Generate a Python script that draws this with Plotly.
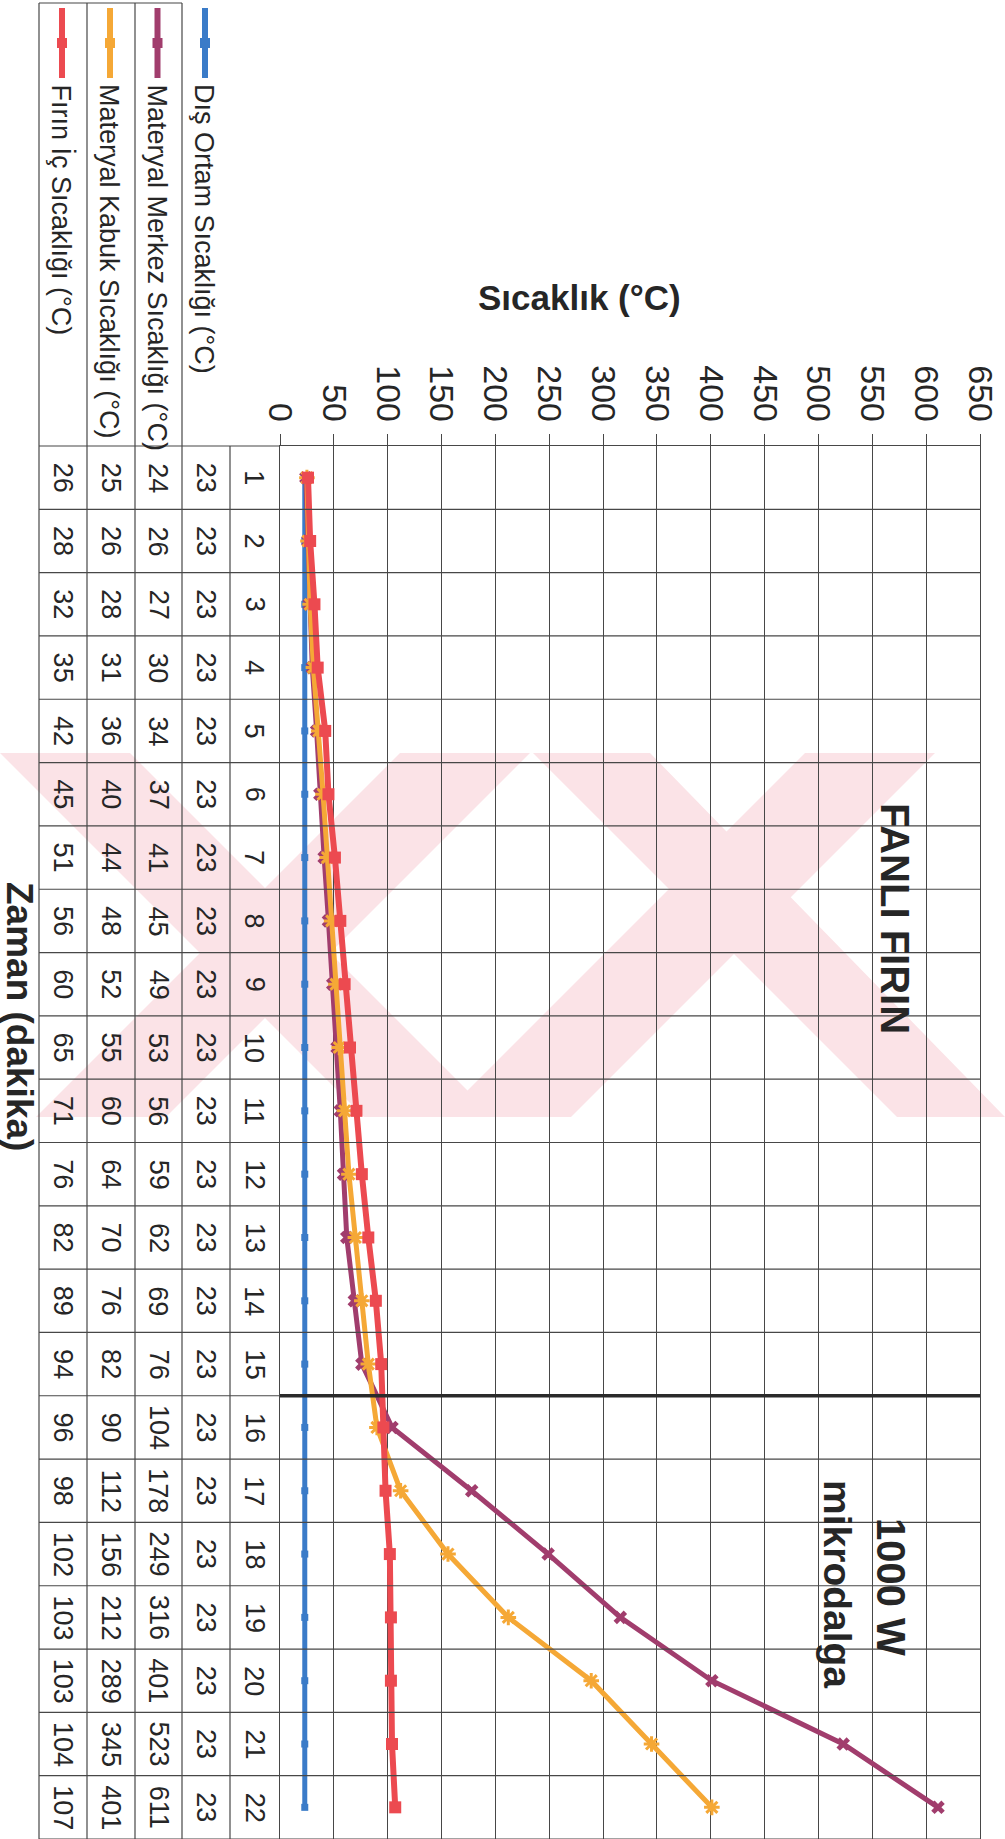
import plotly.graph_objects as go

# ---------------- data ----------------
minutes = [1, 2, 3, 4, 5, 6, 7, 8, 9, 10, 11, 12, 13, 14, 15, 16, 17, 18, 19, 20, 21, 22]
dis_ortam = [23, 23, 23, 23, 23, 23, 23, 23, 23, 23, 23, 23, 23, 23, 23, 23, 23, 23, 23, 23, 23, 23]
merkez = [24, 26, 27, 30, 34, 37, 41, 45, 49, 53, 56, 59, 62, 69, 76, 104, 178, 249, 316, 401, 523, 611]
kabuk = [25, 26, 28, 31, 36, 40, 44, 48, 52, 55, 60, 64, 70, 76, 82, 90, 112, 156, 212, 289, 345, 401]
firin = [26, 28, 32, 35, 42, 45, 51, 56, 60, 65, 71, 76, 82, 89, 94, 96, 98, 102, 103, 103, 104, 107]

series_names = ["Dış Ortam Sıcaklığı (°C)", "Materyal Merkez Sıcaklığı (°C)",
                "Materyal Kabuk Sıcaklığı (°C)", "Fırın İç Sıcaklığı (°C)"]
temp_ticks = [0, 50, 100, 150, 200, 250, 300, 350, 400, 450, 500, 550, 600, 650]

# ---------------- geometry helpers ----------------
W, H = 1005, 1839
PX0, PX1 = 280, 980
PY0, PY1 = 446, 1839


def px(x):
    return (x - PX0) / (PX1 - PX0)


def py(y):
    return (PY1 - y) / (PY1 - PY0)


FONT = "Liberation Sans, Arial, Helvetica, sans-serif"
GRID = "#474747"
TXT = "#262626"

colors = ["#3a7bc8", "#a13d6d", "#f5a836", "#ec4a50"]
symbols = ["square", "x", "asterisk-open", "square"]
msizes = [7, 12, 13, 12]
lwidths = [5, 5, 5, 6]
values = [dis_ortam, merkez, kabuk, firin]

fig = go.Figure()
for name, vals, c, s, ms, lw in zip(series_names, values, colors, symbols, msizes, lwidths):
    mk = dict(symbol=s, size=ms, color=c)
    if s == "asterisk-open":
        mk["line"] = dict(color=c, width=3)
    fig.add_trace(go.Scatter(x=vals, y=minutes, mode="lines+markers", name=name,
                             line=dict(color=c, width=lw), marker=mk, showlegend=False))

shapes = []
# ---------- watermark of the scanned page (approximate diagonal bands) ----------
WM = "#fbe3e7"
wy0, wy1 = 753, 1117
h = wy1 - wy0
bands = [(0, 130, 1), (400, 530, -1), (533, 650, 1), (805, 935, -1)]
for a, b, d in bands:
    pts = [(a, wy0), (b, wy0), (b + d * h, wy1), (a + d * h, wy1)]
    pts = [(max(0, min(W, x)), y) for x, y in pts]
    path = "M " + " L ".join(f"{px(x):.4f},{py(y):.4f}" for x, y in pts) + " Z"
    shapes.append(dict(type="path", xref="paper", yref="paper", path=path,
                       fillcolor=WM, line=dict(width=0), layer="below"))

# ---------- data table lines ----------
col_edges = [39, 87, 135, 182, 230]
for xe in col_edges:
    top = 3 if xe <= 182 else PY0
    shapes.append(dict(type="line", xref="paper", yref="paper", x0=px(xe), x1=px(xe),
                       y0=py(top), y1=py(H), line=dict(color=GRID, width=1.2)))
shapes.append(dict(type="line", xref="paper", yref="paper", x0=px(39), x1=px(182),
                   y0=py(3), y1=py(3), line=dict(color=GRID, width=1.2)))
shapes.append(dict(type="line", xref="paper", yref="paper", x0=px(39), x1=px(PX0),
                   y0=py(PY0), y1=py(PY0), line=dict(color=GRID, width=1.2)))
for k in range(1, 23):
    shapes.append(dict(type="line", xref="paper", yref="y", x0=px(39), x1=1,
                       y0=k + 0.5, y1=k + 0.5, line=dict(color=GRID, width=1.2)))

# divider between fan oven and microwave phase
shapes.append(dict(type="line", xref="x", yref="y", x0=0, x1=650, y0=15.5, y1=15.5,
                   line=dict(color="#2a2a2a", width=3.5)))

# ---------- table text ----------
annotations = []


def ann(x, y, text, size, yref="paper", angle=90, xa="center", ya="middle", bold=False):
    annotations.append(dict(x=x, y=y, xref="paper", yref=yref,
                            text=f"<b>{text}</b>" if bold else text,
                            showarrow=False, textangle=angle, xanchor=xa, yanchor=ya,
                            font=dict(family=FONT, size=size, color=TXT)))


col_centers = [206, 158.5, 111, 63]  # series 1..4
cat_center = 254.5
for m in minutes:
    ann(px(cat_center), m, str(m), 27, yref="y")
for ci, vals in zip(col_centers, values):
    for m, v in zip(minutes, vals):
        ann(px(ci), m, str(v), 27, yref="y")

# header cells: legend key + series name
for ci, name, c in zip(col_centers, series_names, colors):
    shapes.append(dict(type="line", xref="paper", yref="paper", x0=px(ci - 1), x1=px(ci - 1),
                       y0=py(8), y1=py(78), line=dict(color=c, width=6)))
    shapes.append(dict(type="rect", xref="paper", yref="paper",
                       x0=px(ci - 6), x1=px(ci + 4), y0=py(38), y1=py(48),
                       fillcolor=c, line=dict(width=0)))
    ann(px(ci - 2), py(82), name, 27, ya="top")

# titles / notes
ann(px(579), py(298), "Sıcaklık (°C)", 35, angle=0, bold=True)
ann(px(20), py(1016), "Zaman (dakika)", 37, bold=True)
ann(px(895), py(918), "FANLI FIRIN", 40, bold=True)
ann(px(891), py(1587), "1000 W", 40, bold=True)
ann(px(838), py(1584), "mikrodalga", 39, bold=True)

fig.update_layout(
    width=W, height=H,
    margin=dict(l=PX0, r=W - PX1, t=PY0, b=H - PY1),
    paper_bgcolor="white", plot_bgcolor="rgba(0,0,0,0)",
    shapes=shapes, annotations=annotations, showlegend=False,
    xaxis=dict(range=[0, 650], side="top", tickvals=temp_ticks,
               ticktext=[str(t) for t in temp_ticks], tickangle=90,
               tickfont=dict(family=FONT, size=34, color=TXT),
               showgrid=True, gridcolor=GRID, gridwidth=1.2, zeroline=False,
               showline=True, linecolor=GRID, linewidth=1.2, mirror=True,
               ticks="outside", ticklen=11, tickcolor=GRID, tickwidth=1.2,
               automargin=False),
    yaxis=dict(range=[22.5, 0.5], showticklabels=False, showgrid=False, zeroline=False,
               showline=True, linecolor=GRID, linewidth=1.2, mirror=True, ticks="",
               automargin=False),
)

fig.write_html("out.html")
